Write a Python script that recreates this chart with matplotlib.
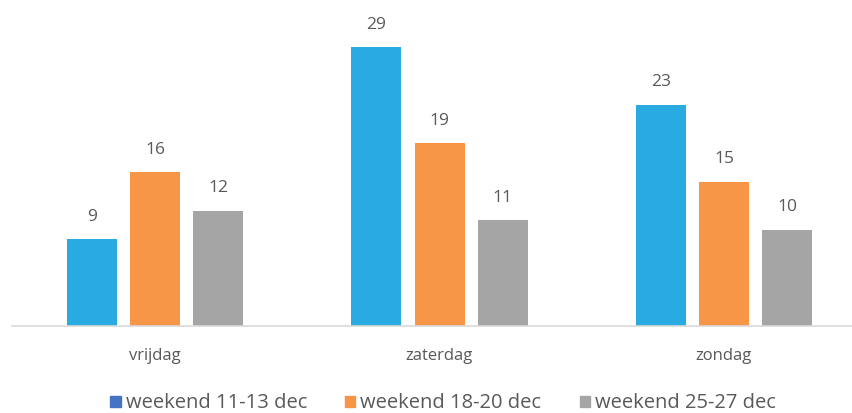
import numpy as np
import matplotlib.pyplot as plt
from matplotlib.patches import Patch

plt.rcParams['font.family'] = ['Open Sans', 'DejaVu Sans']

days = ['vrijdag', 'zaterdag', 'zondag']
series = ['weekend 11-13 dec', 'weekend 18-20 dec', 'weekend 25-27 dec']
w1 = [9, 29, 23]
w2 = [16, 19, 15]
w3 = [12, 11, 10]

bar_colors = ['#29ABE2', '#F79646', '#A5A5A5']
legend_colors = ['#4472C4', '#F79646', '#A5A5A5']
txt = '#595959'

fig = plt.figure(figsize=(8.52, 4.13), dpi=100)
ax = fig.add_axes([12/852, 87/413, 840/852, 316/413])

x = np.arange(len(days))
width = 0.176
step = 0.222
for i, vals in enumerate([w1, w2, w3]):
    bars = ax.bar(x + (i - 1) * step, vals, width, color=bar_colors[i])
    for b, v in zip(bars, vals):
        ax.text(b.get_x() + b.get_width() / 2, v + 1.5, str(v),
                ha='center', va='bottom', fontsize=12.5, color=txt)

ax.set_xlim(-0.503, 2.45)
ax.set_ylim(0, 32.85)
ax.set_yticks([])
ax.set_xticks(x)
ax.set_xticklabels(days, fontsize=12, color=txt)
ax.tick_params(axis='x', length=0, pad=16)
for s in ['top', 'right', 'left']:
    ax.spines[s].set_visible(False)
ax.spines['bottom'].set_color('#D9D9D9')
ax.spines['bottom'].set_linewidth(1.2)

handles = [Patch(color=c, label=l) for c, l in zip(legend_colors, series)]
fig.legend(handles=handles, loc='lower center', bbox_to_anchor=(0.52, -0.045),
           ncol=3, frameon=False, fontsize=14.5, labelcolor=txt,
           handlelength=0.5, handleheight=0.5, handletextpad=0.25,
           columnspacing=1.9)

fig.savefig('out.png', dpi=100)
